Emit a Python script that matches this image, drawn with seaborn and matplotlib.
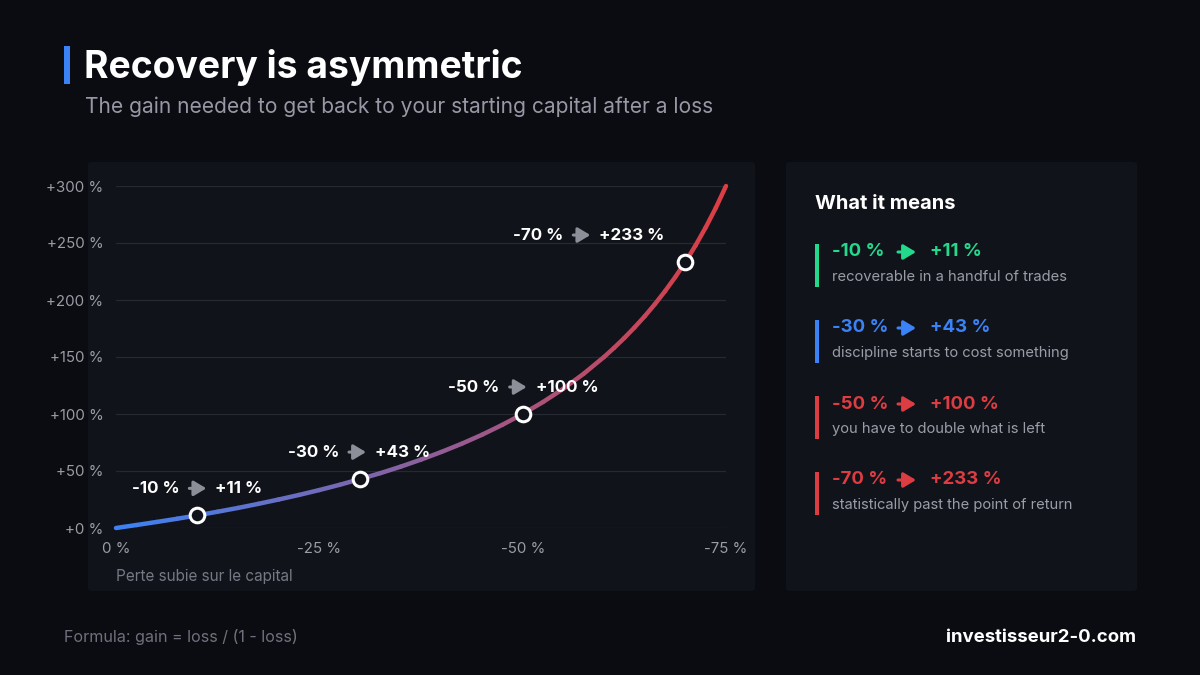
#!/usr/bin/env python3
# -*- coding: utf-8 -*-
"""Recovery is asymmetric: gain needed to recover from a loss."""

import numpy as np
import pandas as pd
import seaborn as sns
import matplotlib.pyplot as plt
from matplotlib.patches import Rectangle, FancyBboxPatch, FancyArrowPatch
from matplotlib.colors import to_rgb, to_hex
from matplotlib.transforms import offset_copy

# %% Data

# loss (in %) and gain needed (in %)
lst_loss = [0, 2.5, 5, 7.5, 10, 12.5, 15, 17.5, 20, 22.5, 25, 27.5, 30, 32.5,
            35, 37.5, 40, 42.5, 45, 47.5, 50, 52.5, 55, 57.5, 60, 61.25,
            62.5, 63.75, 65, 66.25, 67.5, 68.75, 70, 71.25, 72.5, 73.75, 75]
lst_gain = [0, 2.6, 5.3, 8.1, 11.1, 14.3, 17.6, 21.2, 25.0, 29.0, 33.3, 37.9,
            42.9, 48.1, 53.8, 60.0, 66.7, 73.9, 81.8, 90.5, 100.0, 110.5,
            122.2, 135.3, 150.0, 158.1, 166.7, 175.9, 185.7, 196.3, 207.7,
            220.0, 233.3, 247.8, 263.6, 280.9, 300.0]

# highlighted points
lst_key_loss = [10, 30, 50, 70]
lst_key_gain = [11.1, 42.9, 100.0, 233.3]
lst_key_left = ['-10 %', '-30 %', '-50 %', '-70 %']
lst_key_right = ['+11 %', '+43 %', '+100 %', '+233 %']
lst_key_desc = ['recoverable in a handful of trades',
                'discipline starts to cost something',
                'you have to double what is left',
                'statistically past the point of return']

# axis ticks
lst_xticks = [0, 25, 50, 75]
lst_xticklabels = ['0 %', '-25 %', '-50 %', '-75 %']
lst_yticks = [0, 50, 100, 150, 200, 250, 300]
lst_yticklabels = ['+0 %', '+50 %', '+100 %', '+150 %', '+200 %', '+250 %',
                   '+300 %']

# %% Style

str_bg = '#0b0c11'
str_panel = '#11131a'
str_grid = '#262832'
str_tick = '#9a9ca6'
str_muted = '#767985'
str_blue = '#3b82f6'
str_red = '#dc3d42'
lst_card_colors = ['#22d98c', str_blue, str_red, str_red]
str_arrow = '-|>,head_length=0.75,head_width=0.45'

sns.set_theme(style='dark')
plt.rcParams['font.family'] = ['Inter', 'DejaVu Sans']

W, H = 1200, 675


def fx(x):
    return x / W


def fy(y):
    return 1 - y / H


fig = plt.figure(figsize=(12, 6.75), dpi=100, facecolor=str_bg)

# panels
for x0, x1 in [(88, 755), (786, 1137)]:
    fig.patches.append(FancyBboxPatch((fx(x0), fy(591)), fx(x1) - fx(x0),
                                      fy(162) - fy(591),
                                      boxstyle='round,pad=0,rounding_size=0.004',
                                      transform=fig.transFigure, fc=str_panel,
                                      ec='none', zorder=-5))

# %% Chart

ax = fig.add_axes([fx(116), fy(528), fx(726) - fx(116), fy(186) - fy(528)])
ax.set_facecolor('none')
ax.set_zorder(2)

# gradient line, one segment per hue level
ary_c0 = np.array(to_rgb(str_blue))
ary_c1 = np.array(to_rgb(str_red))
lst_rows = []
lst_pal = []
for ind in range(len(lst_loss) - 1):
    for j in (ind, ind + 1):
        lst_rows.append({'loss': lst_loss[j], 'gain': lst_gain[j], 'seg': ind})
    var_t = (lst_loss[ind] + lst_loss[ind + 1]) / 2 / 75
    lst_pal.append(to_hex(ary_c0 * (1 - var_t) + ary_c1 * var_t))
df_curve = pd.DataFrame(lst_rows)

sns.lineplot(data=df_curve, x='loss', y='gain', hue='seg', palette=lst_pal,
             sort=False, legend=False, linewidth=3.2, ax=ax,
             solid_capstyle='round', clip_on=False, zorder=3)

df_key = pd.DataFrame({'loss': lst_key_loss, 'gain': lst_key_gain})
sns.scatterplot(data=df_key, x='loss', y='gain', s=110, color=str_panel,
                edgecolor='white', linewidth=2.2, ax=ax, zorder=5,
                clip_on=False)

# point labels (offsets in pixels, relative to the point)
lst_dx = [0, -3, -5, -104]
for ind in range(len(lst_key_loss)):
    xy = (lst_key_loss[ind], lst_key_gain[ind])
    dx = lst_dx[ind]
    ax.annotate(lst_key_left[ind], xy, xytext=(dx - 18, 27),
                textcoords='offset pixels', ha='right', va='center',
                color='white', fontsize=12.2, fontweight='bold')
    ax.annotate('', xy=xy, xytext=xy,
                xycoords=offset_copy(ax.transData, fig=fig, x=dx + 9, y=27,
                                     units='dots'),
                textcoords=offset_copy(ax.transData, fig=fig, x=dx - 8, y=27,
                                       units='dots'),
                arrowprops=dict(arrowstyle=str_arrow, color='#8d8f98',
                                lw=2.2, shrinkA=0, shrinkB=0,
                                mutation_scale=10))
    ax.annotate(lst_key_right[ind], xy, xytext=(dx + 18, 27),
                textcoords='offset pixels', ha='left', va='center',
                color='white', fontsize=12.2, fontweight='bold')

ax.set_xlim(0, 75)
ax.set_ylim(0, 300)
ax.set_xticks(lst_xticks)
ax.set_xticklabels(lst_xticklabels)
ax.set_yticks(lst_yticks)
ax.set_yticklabels(lst_yticklabels)
ax.tick_params(axis='both', colors=str_tick, labelsize=10.8, length=0)
ax.tick_params(axis='x', pad=10)
ax.tick_params(axis='y', pad=9)
ax.grid(axis='y', color=str_grid, linewidth=0.9)
ax.grid(axis='x', visible=False)
for sp in ax.spines.values():
    sp.set_visible(False)
ax.set_xlabel('')
ax.set_ylabel('')

fig.text(fx(116), fy(577), 'Perte subie sur le capital', color=str_muted,
         fontsize=11, ha='left', va='center')

# %% Titles

fig.patches.append(Rectangle((fx(64), fy(84)), fx(6), fy(46) - fy(84),
                             transform=fig.transFigure, fc=str_blue,
                             ec='none'))
fig.text(fx(84), fy(67), 'Recovery is asymmetric', color='white',
         fontsize=26.8, fontweight='bold', ha='left', va='center')
fig.text(fx(85), fy(107), 'The gain needed to get back to your starting '
         'capital after a loss', color='#9699a5', fontsize=15.1, ha='left',
         va='center')

# %% Card

fig.text(fx(815), fy(204), 'What it means', color='white', fontsize=14.5,
         fontweight='bold', ha='left', va='center')
for ind in range(len(lst_key_loss)):
    var_y = 252 + 76 * ind
    str_c = lst_card_colors[ind]
    fig.patches.append(Rectangle((fx(815), fy(var_y + 35)), fx(4),
                                 fy(var_y - 8) - fy(var_y + 35),
                                 transform=fig.transFigure, fc=str_c,
                                 ec='none'))
    fig.text(fx(832), fy(var_y), lst_key_left[ind], color=str_c,
             fontsize=13.4, fontweight='bold', ha='left', va='center')
    fig.patches.append(FancyArrowPatch((fx(898), fy(var_y)),
                                       (fx(916), fy(var_y)),
                                       transform=fig.transFigure,
                                       arrowstyle=str_arrow, color=str_c,
                                       lw=2.2, mutation_scale=10,
                                       shrinkA=0, shrinkB=0))
    fig.text(fx(930), fy(var_y), lst_key_right[ind], color=str_c,
             fontsize=13.4, fontweight='bold', ha='left', va='center')
    fig.text(fx(832), fy(var_y + 25), lst_key_desc[ind], color='#9a9da8',
             fontsize=10.6, ha='left', va='center')

# %% Footer

fig.text(fx(64), fy(637), 'Formula: gain = loss / (1 - loss)',
         color='#6e717d', fontsize=11.6, ha='left', va='center')
fig.text(fx(1136), fy(637), 'investisseur2-0.com', color='white',
         fontsize=13.4, fontweight='bold', ha='right', va='center')

fig.savefig('out.png', dpi=100, facecolor=str_bg)
